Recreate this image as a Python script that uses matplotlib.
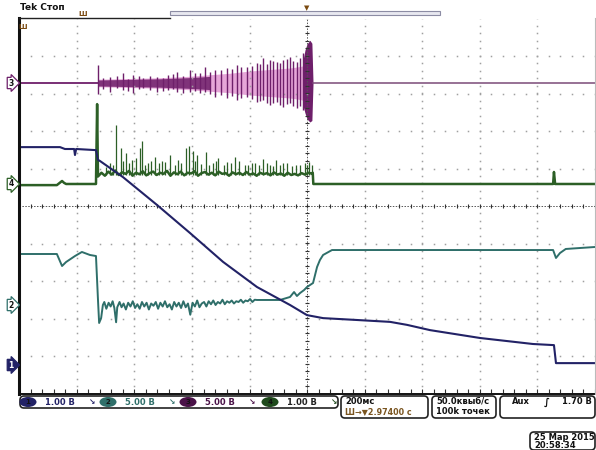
import numpy as np
import matplotlib
matplotlib.use('Agg')
import matplotlib.pyplot as plt
from matplotlib.patches import FancyBboxPatch, Ellipse, Rectangle

# time in ms relative to trigger, 200 ms/div
# ch1 - 1 V/div
ch1_t = [-1000, -859, -842, -810, -807, -803, -734, -727, -720, -640, -522, -407, -292,
         -174, -59, 0, 56, 174, 289, 348, 428, 602, 786, 859, 866, 1000]
ch1_v = [5.81, 5.81, 5.76, 5.76, 5.6, 5.76, 5.73, 5.47, 5.44, 5.01, 4.27, 3.52, 2.75,
         2.08, 1.60, 1.33, 1.25, 1.20, 1.15, 1.07, 0.93, 0.72, 0.56, 0.53, 0.05, 0.05]

# ch2 - 5 V/div
ch2_t = [-1000, -870, -852, -838, -807, -783, -755, -734, -727, -723, -716, -710,
         -705, -698, -690, -683, -676, -670, -664, -660, -652, -645, -638, -630, -622,
         -614, -606, -598, -590, -582, -574, -566, -558, -550, -542, -534, -526, -518,
         -510, -502, -494, -486, -478, -470, -462, -454, -446, -438, -430, -422, -414,
         -406, -398, -390, -382, -374, -366, -358, -350, -342, -334, -326, -318, -310,
         -302, -294, -286, -278, -270, -262, -254, -246, -238, -230, -222, -214, -206,
         -198, -190, -182,
         -174, -94, -59, -45, -35, -24, -10, 0, 21, 35, 45, 56, 87, 856, 866, 880, 900, 1000]
ch2_v = [6.8, 6.8, 5.2, 5.73, 6.53, 7.07, 6.67, 6.53, 0.67, -2.4, -1.73, 0.0,
         0.4, -0.5, 0.3, -0.2, 0.5, -0.4, -2.3, -0.3, 0.4, -0.3, 0.2, -0.6, 0.3,
         -0.2, 0.5, -0.4, 0.1, -0.5, 0.4, -0.2, 0.3, -0.6, 0.2, -0.1, 0.4, -0.5,
         0.3, -0.2, 0.5, -0.3, 0.1, -0.6, 0.4, -0.2, 0.3, -0.4, 0.5, -0.3, 0.2,
         -1.3, 0.3, -0.2, 0.6, -0.3, 0.2, 0.4, -0.2, 0.5, 0.1, 0.6, 0.0, 0.4,
         0.2, 0.7, 0.1, 0.5, 0.3, 0.6, 0.2, 0.5, 0.4, 0.7, 0.3, 0.6, 0.5,
         0.8, 0.4, 0.7,
         0.67, 0.67, 1.07, 1.73, 1.2, 1.6, 2.0, 2.4, 2.93, 5.07, 6.0, 6.67, 7.33, 7.33,
         6.27, 6.93, 7.47, 7.73]

# ch3 - 5 V/div, burst envelope
ch3_env_t = [-727, -616, -511, -407, -337, -268, -198, -129, -59, -24, -12]
ch3_env_a = [0.5, 0.6, 0.7, 0.9, 1.1, 1.3, 1.6, 1.8, 2.0, 2.2, 2.3]
ch3_burst_t = [-14, -7, 0, 10, 17, 21]
ch3_burst_up = [3.0, 4.4, 5.2, 5.7, 5.3, 0.0]
ch3_burst_dn = [-3.0, -4.0, -4.8, -5.2, -5.0, 0.0]
ch3_spk_t = [-727, -710, -685, -662, -639, -622, -604, -586, -569, -546, -523, -502, -482,
             -467, -453, -430, -407, -390, -372, -355, -338, -320, -300, -279, -262, -245,
             -228, -210, -192, -175, -163, -152, -140, -129, -117, -105, -94, -82, -70,
             -59, -48, -36, -25, -13]
ch3_spk_up = [2.4, 0.7, 0.84, 0.9, 1.29, 0.6, 1.07, 0.9, 0.62, 1.0, 0.84, 0.7, 1.07,
              1.2, 1.51, 1.0, 1.73, 1.4, 1.29, 2.18, 1.5, 1.73, 1.7, 1.96, 1.9, 2.4,
              2.1, 2.18, 2.3, 2.62, 2.6, 3.29, 2.5, 3.07, 2.9, 2.84, 2.7, 3.07, 3.2,
              3.51, 3.0, 2.84, 3.4, 3.96]
ch3_spk_dn = [-1.5, -0.8, -1.16, -0.7, -0.93, -1.0, -1.38, -0.8, -0.71, -0.9, -1.16, -1.0, -0.93,
              -0.8, -1.16, -1.3, -1.16, -1.1, -1.38, -1.16, -1.4, -1.82, -1.6, -2.04, -1.7, -2.27,
              -2.0, -1.82, -2.1, -2.49, -2.4, -2.27, -2.6, -2.93, -2.6, -2.49, -2.9, -3.16, -2.8,
              -2.71, -3.1, -3.38, -3.0, -3.6]

# ch4 - 1 V/div
ch4_t = [-1000, -870, -852, -845, -838, -734, -730, -727,
         -715, -703, -691, -679, -667, -655, -643, -631, -619, -607, -595, -583, -571,
         -559, -547, -535, -523, -511, -499, -487, -475, -463, -451, -439, -427, -415,
         -403, -391, -379, -367, -355, -343, -331, -319, -307, -295, -283, -271, -259,
         -247, -235, -223, -211, -199, -187, -175, -163, -151, -139, -127, -115, -103,
         -91, -79, -67, -55, -43, -31, -19, -7, 5, 15,
         20, 22, 856, 859, 863, 1000]
ch4_v = [-0.03, -0.03, 0.08, 0.03, 0.0, 0.0, 2.13, 0.2,
         0.3, 0.22, 0.33, 0.25, 0.36, 0.24, 0.31, 0.27, 0.35, 0.22, 0.3, 0.26, 0.34,
         0.23, 0.29, 0.33, 0.24, 0.3, 0.27, 0.35, 0.22, 0.31, 0.26, 0.33, 0.23, 0.3,
         0.28, 0.34, 0.22, 0.29, 0.32, 0.25, 0.3, 0.23, 0.33, 0.27, 0.29, 0.22, 0.31,
         0.26, 0.3, 0.24, 0.32, 0.25, 0.28, 0.22, 0.3, 0.26, 0.29, 0.23, 0.31, 0.25,
         0.28, 0.22, 0.3, 0.24, 0.27, 0.23, 0.29, 0.25, 0.3, 0.28,
         0.3, 0.0, 0.0, 0.32, 0.0, 0.0]
ch4_spk_t = [-700, -685, -675, -664, -647, -640, -630, -620, -609, -595, -581, -574, -563,
             -553, -541, -529, -515, -505, -494, -476, -460, -449, -437, -421, -410, -397,
             -390, -383, -368, -351, -340, -327, -318, -310, -290, -278, -265, -250, -235,
             -216, -205, -190, -181, -168, -153, -140, -129, -118, -108, -95, -83, -70,
             -52, -40, -24, -7, 0, 8, 17]
ch4_spk_v = [0.45, 0.56, 0.5, 1.57, 0.96, 0.6, 0.83, 0.55, 0.64, 0.7, 0.96, 1.15, 0.5,
             0.56, 0.6, 0.72, 0.55, 0.62, 0.59, 0.77, 0.5, 0.64, 0.55, 0.96, 1.01, 0.88,
             0.6, 0.77, 0.52, 0.85, 0.5, 0.56, 0.62, 0.69, 0.5, 0.59, 0.55, 0.72, 0.6,
             0.51, 0.5, 0.55, 0.56, 0.5, 0.67, 0.55, 0.51, 0.48, 0.64, 0.5, 0.56, 0.55,
             0.48, 0.5, 0.51, 0.56, 0.5, 0.58, 0.51]

# channel settings: (ground position in div, V/div)
ch_pos = {1: -4.24, 2: -2.64, 3: 3.28, 4: 0.587}
ch_scale = {1: 1.0, 2: 5.0, 3: 5.0, 4: 1.0}
col1 = '#222266'
col2 = '#2f6f6a'
col3 = '#6e1f6a'
col3_light = '#e6a6d8'
col4 = '#2c5f26'


def dv(v, ch):
    return ch_pos[ch] + np.asarray(v, dtype=float) / ch_scale[ch]


W, H = 596, 450
fig = plt.figure(figsize=(W / 100, H / 100), dpi=100)
fig.patch.set_facecolor('white')
ax = fig.add_axes([19.5 / W, 1 - 393.5 / H, 575 / W, 375 / H])
ax.set_xlim(-1000, 1000)
ax.set_ylim(-5, 5)
ax.axis('off')

# graticule dots
gc = '#a0a0a0'
ydots = np.arange(-5, 5.01, 0.2)
xdots = np.arange(-1000, 1000.1, 40)
for gx in range(-800, 801, 200):
    if gx != 0:
        ax.plot(np.full(len(ydots), gx), ydots, ls='none', marker='s', ms=1.1, color=gc, mew=0)
for gy in range(-4, 5):
    if gy != 0:
        ax.plot(xdots, np.full(len(xdots), gy), ls='none', marker='s', ms=1.1, color=gc, mew=0)
ax.plot([-1000, 1000], [0, 0], color='#555555', lw=0.7, ls=(0, (1.5, 1.5)))
ax.plot(xdots, np.zeros(len(xdots)), ls='none', marker='|', ms=3.5, color='#333333', mew=0.8)
ax.plot([0, 0], [-5, 5], color='#555555', lw=0.7, ls=(0, (1.5, 1.5)))
ax.plot(np.zeros(len(ydots)), ydots, ls='none', marker='_', ms=3.5, color='#333333', mew=0.8)
ax.plot(xdots, np.full(len(xdots), -4.93), ls='none', marker='|', ms=2.5, color='#333333', mew=0.8)

# ch3 burst
ax.plot([-1000, -727], dv([0, 0], 3), color=col3, lw=1.3)
ax.plot([21, 1000], dv([0, 0], 3), color='#7a4a78', lw=1.1)
env_a = np.array(ch3_env_a)
ax.fill_between(ch3_env_t, dv(env_a, 3), dv(-env_a, 3), color=col3_light, lw=0)
ax.fill_between(ch3_env_t[:5], dv(env_a[:5] * 0.8, 3), dv(-env_a[:5] * 0.8, 3), color=col3, lw=0, alpha=0.85)
ax.vlines(ch3_spk_t, dv(ch3_spk_dn, 3), dv(ch3_spk_up, 3), color=col3, lw=1.0)
ax.fill_between(ch3_burst_t, dv(ch3_burst_dn, 3), dv(ch3_burst_up, 3), color=col3, lw=0)

# ch4
ax.vlines(ch4_spk_t, dv(np.full(len(ch4_spk_t), 0.25), 4), dv(ch4_spk_v, 4), color=col4, lw=0.9)
ax.plot(ch4_t, dv(ch4_v, 4), color=col4, lw=1.8)

# ch2
ax.plot(ch2_t, dv(ch2_v, 2), color=col2, lw=1.4)

# ch1
ax.plot(ch1_t, dv(ch1_v, 1), color=col1, lw=1.5)

# overlay in pixel coordinates
ov = fig.add_axes([0, 0, 1, 1])
ov.set_xlim(0, W)
ov.set_ylim(H, 0)
ov.axis('off')

# borders
ov.plot([19, 19], [18, 394], color='#111111', lw=2.2)
ov.plot([19, 596], [393.5, 393.5], color='#111111', lw=1.4)
ov.plot([19, 170], [17.5, 17.5], color='#222222', lw=1.0)
ov.plot([595, 595], [18, 394], color='#bbbbbb', lw=0.8)
ov.add_patch(Rectangle((170, 11), 270, 4, fc='#e8e8f0', ec='#8c8ca4', lw=0.8))
ov.text(20, 8, 'Tek Стоп', fontsize=6.5, fontweight='bold', va='center', ha='left', color='#111111')
ov.text(83, 14, 'Ш', fontsize=5, fontweight='bold', va='center', ha='center', color='#7a4a10')
ov.text(23, 27, 'Ш', fontsize=5, fontweight='bold', va='center', ha='center', color='#7a4a10')
ov.text(307, 8, '▼', fontsize=5, va='center', ha='center', color='#7a4a10')

# channel markers
for ch, y, ec, fc, tc in [(3, 83, col3, 'white', '#111111'), (4, 184, col4, 'white', '#111111'),
                          (2, 305, col2, 'white', '#111111'), (1, 365, col1, col1, 'white')]:
    ov.text(11, y, str(ch), fontsize=5.5, fontweight='bold', ha='center', va='center', color=tc,
            bbox=dict(boxstyle='rarrow,pad=0.15', fc=fc, ec=ec, lw=0.9))

# status bar
def box(x, y, w, h):
    ov.add_patch(FancyBboxPatch((x, y), w, h, boxstyle='round,pad=0,rounding_size=4',
                                fc='white', ec='#222222', lw=1.2))

box(20, 396, 318, 12)
for cx, ch, col, lab, tcol in [(28, 1, col1, '1.00 В', col1), (108, 2, col2, '5.00 В', col2),
                               (188, 3, '#4a1248', '5.00 В', '#4a1248'), (270, 4, '#1f4a1c', '1.00 В', '#222222')]:
    ov.add_patch(Ellipse((cx, 402), 17, 10, fc=col, ec='none'))
    ov.text(cx, 402.5, str(ch), fontsize=5, fontweight='bold', ha='center', va='center', color='#111111')
    ov.text(cx + 17, 402.5, lab, fontsize=6, fontweight='bold', ha='left', va='center', color=tcol)
    ov.text(cx + 64, 402, '↘', fontsize=5.5, fontweight='bold', ha='center', va='center', color=col)

box(341, 396, 87, 22)
ov.text(345, 401.5, '200мс', fontsize=6, fontweight='bold', ha='left', va='center', color='#111111')
ov.text(345, 412, 'Ш→▼2.97400 с', fontsize=5.8, fontweight='bold', ha='left', va='center', color='#7a5520')

box(432, 396, 64, 22)
ov.text(436, 401.5, '50.0квыб/с', fontsize=6, fontweight='bold', ha='left', va='center', color='#111111')
ov.text(436, 412, '100k точек', fontsize=6, fontweight='bold', ha='left', va='center', color='#111111')

box(500, 396, 95, 22)
ov.text(512, 402, 'Aux', fontsize=6, fontweight='bold', ha='left', va='center', color='#111111')
ov.text(547, 402, '∫', fontsize=7, fontweight='bold', ha='center', va='center', color='#111111')
ov.text(592, 402, '1.70 В', fontsize=6, fontweight='bold', ha='right', va='center', color='#111111')

box(530, 432, 65, 18)
ov.text(534, 437, '25 Мар 2015', fontsize=6, fontweight='bold', ha='left', va='center', color='#111111')
ov.text(534, 446, '20:58:34', fontsize=6, fontweight='bold', ha='left', va='center', color='#111111')

fig.savefig('out.png', dpi=100, facecolor='white')
